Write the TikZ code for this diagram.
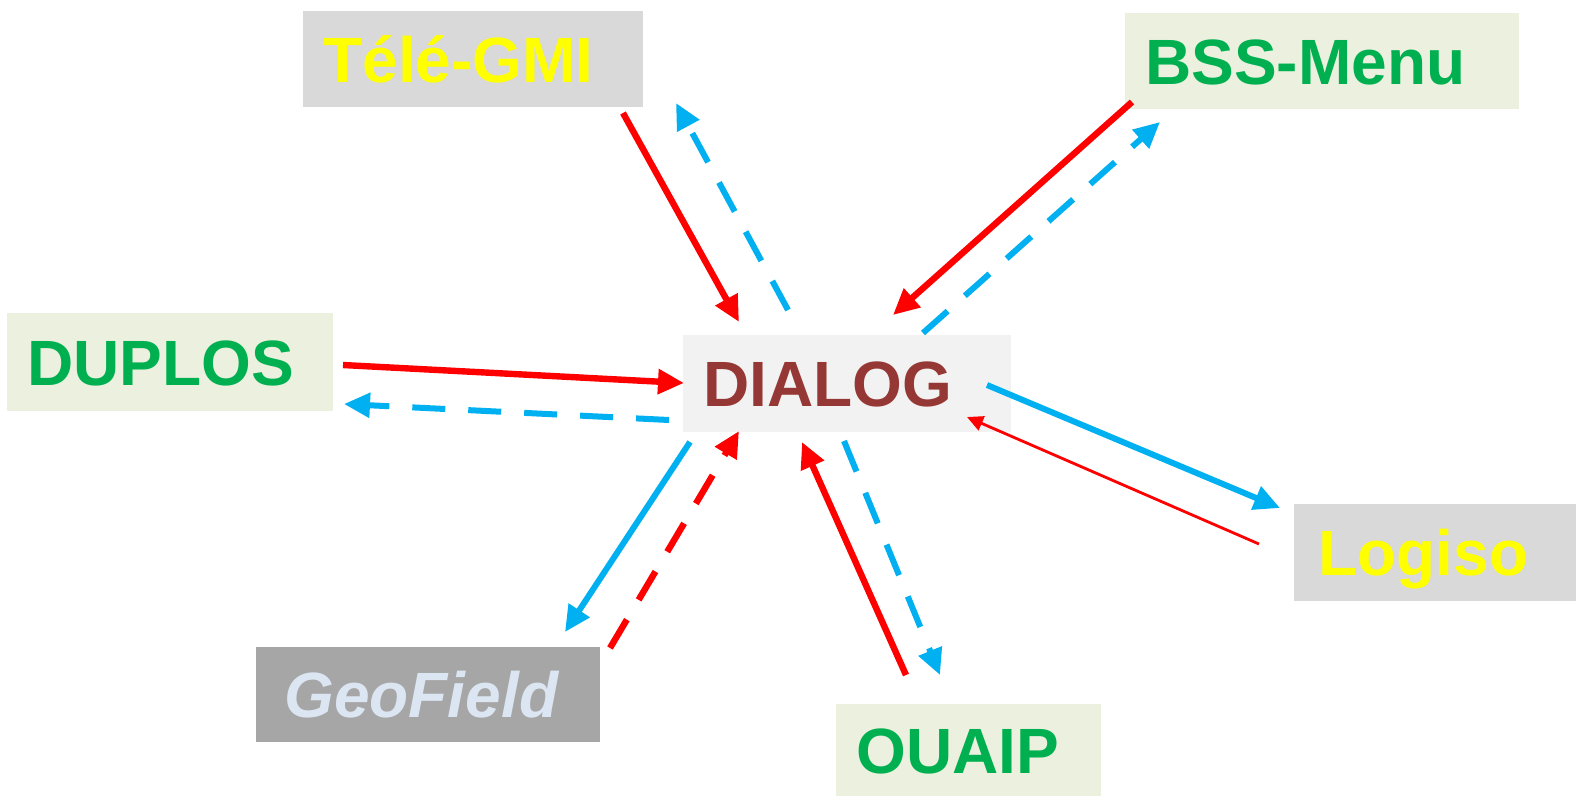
\documentclass[tikz,border=0pt]{standalone}
\usepackage{fontspec}
\setmainfont{Liberation Sans}
\usetikzlibrary{arrows.meta}
\definecolor{boxgrey}{HTML}{D9D9D9}
\definecolor{boxgreen}{HTML}{EBF1DE}
\definecolor{boxlight}{HTML}{F2F2F2}
\definecolor{boxdark}{HTML}{A6A6A6}
\definecolor{txtyellow}{HTML}{FFFF00}
\definecolor{txtgreen}{HTML}{00B050}
\definecolor{txtbrown}{HTML}{953735}
\definecolor{txtpale}{HTML}{DCE6F2}
\definecolor{linered}{HTML}{FF0000}
\definecolor{lineblue}{HTML}{00B0F0}
\tikzset{
  appbox/.style={anchor=north west, inner xsep=10pt, inner ysep=0pt,
    align=left, text height=23pt, text depth=0pt,
    font=\bfseries\fontsize{32}{36}\selectfont},
  greybox/.style={appbox, fill=boxgrey, text=txtyellow},
  greenbox/.style={appbox, fill=boxgreen, text=txtgreen},
  redflow/.style={draw=linered, line width=3.2pt,
    -{Triangle[length=13pt,width=12pt]}},
  blueflow/.style={draw=lineblue, line width=3pt,
    -{Triangle[length=13pt,width=12pt]}},
  thinflow/.style={draw=linered, line width=1.4pt,
    -{Triangle[length=8pt,width=7.5pt]}},
  dashflow/.style={dash pattern=on 16.5pt off 11.5pt}
}
\begin{document}
\begin{tikzpicture}[x=0.5pt,y=-0.5pt]
\useasboundingbox (0,0) rectangle (1576,799);

% boxes: north west corner, width and height in pixels of the drawing
\node[greybox, text width=150pt, minimum height=48pt] (tele) at (303,11) {Télé-GMI};
\node[greenbox, text width=177pt, minimum height=48pt] (bss) at (1125,13) {BSS-Menu};
\node[greenbox, text width=143pt, minimum height=49pt] (duplos) at (7,313) {DUPLOS};
\node[appbox, fill=boxlight, text=txtbrown, text width=144pt, minimum height=48.5pt] (dialog) at (683,335) {DIALOG};
\node[greybox, text width=121pt, minimum height=48.5pt] (logiso) at (1294,504) {\hspace{2pt}Logiso};
\node[appbox, fill=boxdark, text=txtpale, text width=152pt, minimum height=47.5pt] (geo) at (256,647) {\hspace{4pt}\itshape GeoField};
\node[greenbox, text width=112.5pt, minimum height=46pt] (ouaip) at (836,704) {OUAIP};

% free ends of the connectors
\coordinate (teleA) at (623,113);   \coordinate (dialogA) at (739,322);
\coordinate (dialogB) at (788,310); \coordinate (teleB) at (676,103);
\coordinate (bssA) at (1132,102);   \coordinate (dialogC) at (893,315);
\coordinate (dialogD) at (923,333); \coordinate (bssB) at (1160,122);
\coordinate (duplosA) at (343,365); \coordinate (dialogE) at (684,383);
\coordinate (dialogF) at (669,420); \coordinate (duplosB) at (344,404);
\coordinate (dialogG) at (690,442); \coordinate (geoA) at (565,632);
\coordinate (geoB) at (610,648);    \coordinate (dialogH) at (739,431);
\coordinate (ouaipA) at (906,675);  \coordinate (dialogI) at (802,442);
\coordinate (dialogJ) at (844,441); \coordinate (ouaipB) at (940,675);
\coordinate (dialogK) at (987,385); \coordinate (logisoA) at (1280,508);
\coordinate (logisoB) at (1259,544); \coordinate (dialogL) at (967,417);

\draw[redflow] (teleA) -- (dialogA);
\draw[blueflow,dashflow] (dialogB) -- (teleB);
\draw[redflow] (bssA) -- (dialogC);
\draw[blueflow,dashflow] (dialogD) -- (bssB);
\draw[redflow] (duplosA) -- (dialogE);
\draw[blueflow,dashflow] (dialogF) -- (duplosB);
\draw[blueflow] (dialogG) -- (geoA);
\draw[redflow,dashflow] (geoB) -- (dialogH);
\draw[redflow] (ouaipA) -- (dialogI);
\draw[blueflow,dashflow] (dialogJ) -- (ouaipB);
\draw[blueflow] (dialogK) -- (logisoA);
\draw[thinflow] (logisoB) -- (dialogL);
\end{tikzpicture}
\end{document}
